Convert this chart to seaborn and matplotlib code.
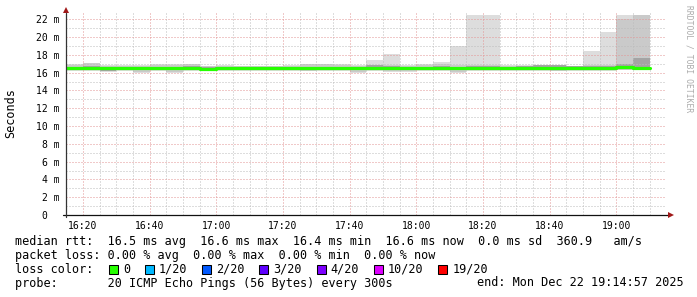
import matplotlib
matplotlib.use("Agg")
import matplotlib.pyplot as plt
import numpy as np
import pandas as pd
import seaborn as sns
from matplotlib.patches import Rectangle

# ---------------- data ----------------
first_step = "16:15"            # start of first 300 s RRD step
step_minutes = 5
window_start = "16:14:57"
window_end = "19:14:57"

median_ms = [16.53, 16.53, 16.50, 16.53, 16.53, 16.53, 16.53, 16.53, 16.38, 16.53,
             16.53, 16.53, 16.53, 16.53, 16.53, 16.53, 16.53, 16.53, 16.53, 16.55,
             16.53, 16.53, 16.53, 16.53, 16.53, 16.53, 16.53, 16.53, 16.53, 16.55,
             16.55, 16.53, 16.55, 16.60, 16.58]
ping_min = [16.20, 16.20, 16.10, 16.20, 16.00, 16.20, 16.00, 16.20, 16.15, 16.20,
            16.20, 16.20, 16.20, 16.20, 16.15, 16.20, 16.20, 16.00, 16.20, 16.10,
            16.10, 16.20, 16.20, 15.95, 16.20, 16.20, 16.20, 16.20, 16.20, 16.15,
            16.20, 16.20, 16.20, 16.25, 16.25]
ping_max = [16.95, 17.10, 16.85, 16.85, 16.85, 17.00, 17.00, 17.00, 16.80, 16.90,
            16.75, 16.75, 16.75, 16.85, 17.00, 17.00, 16.95, 16.85, 17.40, 18.10,
            16.90, 17.00, 17.15, 19.00, 22.50, 22.50, 16.90, 16.85, 16.85, 16.85,
            16.80, 18.40, 20.60, 22.50, 22.50]
ping_p10 = [16.28, 16.28, 16.18, 16.28, 16.10, 16.28, 16.10, 16.28, 16.22, 16.28,
            16.28, 16.28, 16.28, 16.28, 16.22, 16.28, 16.28, 16.10, 16.28, 16.20,
            16.20, 16.28, 16.28, 16.10, 16.28, 16.28, 16.28, 16.28, 16.28, 16.22,
            16.28, 16.28, 16.28, 16.30, 16.30]
ping_p90 = [16.85, 17.05, 16.75, 16.75, 16.75, 16.90, 16.90, 16.95, 16.70, 16.80,
            16.70, 16.70, 16.70, 16.80, 16.95, 16.95, 16.90, 16.75, 16.90, 16.85,
            16.80, 16.90, 17.00, 16.85, 16.90, 16.90, 16.80, 16.80, 16.85, 16.85,
            16.75, 16.90, 16.90, 22.00, 22.50]
ping_p25 = [16.40, 16.40, 16.20, 16.40, 16.40, 16.40, 16.40, 16.40, 16.30, 16.25,
            16.40, 16.25, 16.40, 16.40, 16.40, 16.25, 16.40, 16.40, 16.40, 16.40,
            16.40, 16.40, 16.40, 16.40, 16.40, 16.40, 16.40, 16.40, 16.40, 16.40,
            16.40, 16.25, 16.40, 16.40, 16.40]
ping_p75 = [16.65, 16.75, 16.65, 16.65, 16.65, 16.65, 16.65, 16.72, 16.60, 16.65,
            16.65, 16.65, 16.65, 16.65, 16.65, 16.65, 16.65, 16.65, 16.85, 16.70,
            16.65, 16.65, 16.70, 16.65, 16.70, 16.70, 16.65, 16.70, 16.85, 16.85,
            16.70, 16.75, 16.70, 17.00, 17.60]

x_major_labels = ["16:20", "16:40", "17:00", "17:20", "17:40",
                  "18:00", "18:20", "18:40", "19:00"]
y_major_values = [0, 2, 4, 6, 8, 10, 12, 14, 16, 18, 20, 22]

rtt_stats = [("16.5", "avg"), ("16.6", "max"), ("16.4", "min"), ("16.6", "now")]
rtt_sd = "0.0"
rtt_am = "360.9"
loss_stats = [("0.00", "avg"), ("0.00", "max"), ("0.00", "min"), ("0.00", "now")]
loss_labels = ["0", "1/20", "2/20", "3/20", "4/20", "10/20", "19/20"]
loss_colors = ["#26ff00", "#00b8ff", "#0059ff", "#5e00ff", "#7e00ff", "#dd00ff", "#ff0000"]
probe_text = "20 ICMP Echo Pings (56 Bytes) every 300s"
end_text = "Mon Dec 22 19:14:57 2025"
watermark = "RRDTOOL / TOBI OETIKER"


def to_min(s):
    parts = [int(p) for p in s.split(":")]
    while len(parts) < 3:
        parts.append(0)
    return (parts[0] - 16) * 60 + parts[1] + parts[2] / 60.0


# ---------------- figure ----------------
W, H = 697, 297
sns.set_theme(style="white")
plt.rcParams["font.family"] = ["DejaVu Sans Mono"]
plt.rcParams["text.color"] = "black"

fig = plt.figure(figsize=(W / 100, H / 100), dpi=100, facecolor="white")
ax = fig.add_axes([66 / W, (H - 215) / H, 600 / W, 202 / H], facecolor="white")

n = len(median_ms)
t0 = to_min(first_step)
step_x = np.array([t0 + i * step_minutes for i in range(n)])

# smoke (outer -> inner)
for lo, hi, col in [(ping_min, ping_max, "#dddddd"),
                    (ping_p10, ping_p90, "#cacaca"),
                    (ping_p25, ping_p75, "#a4a4a4")]:
    lo = np.array(lo)
    hi = np.array(hi)
    ax.bar(step_x, hi - lo, bottom=lo, width=step_minutes, align="edge",
           color=col, linewidth=0, zorder=1)

# median line
df = pd.DataFrame({"t": list(step_x) + [step_x[-1] + step_minutes],
                   "median": median_ms + [median_ms[-1]]})
sns.lineplot(data=df, x="t", y="median", drawstyle="steps-post",
             color=loss_colors[0], linewidth=2.3, ax=ax, zorder=3)
ax.set_xlabel("")
ax.set_ylabel("")

ax.set_xlim(to_min(window_start), to_min(window_end))
ax.set_ylim(0, 22.71)

# ticks & grid
ax.set_xticks([to_min(s) for s in x_major_labels])
ax.set_xticklabels(x_major_labels)
ax.set_xticks(np.arange(to_min("16:15"), to_min(window_end), 5), minor=True)
ax.set_yticks(y_major_values)
ax.set_yticklabels([""] * len(y_major_values))
ax.set_yticks(np.arange(1, 23, 2), minor=True)

ax.set_axisbelow(False)
ax.grid(which="major", color="#e39595", linestyle=(0, (1, 2)), linewidth=0.72)
ax.grid(which="minor", color="#bcbcbc", linestyle=(0, (1, 2)), linewidth=0.72)
ax.tick_params(axis="x", which="major", length=1.5, width=0.72, color="#222222",
               direction="out", pad=3.0, labelsize=7, labelcolor="black")
ax.tick_params(axis="y", which="major", length=1.5, width=0.72, color="#222222",
               direction="out", pad=0, labelsize=7)
ax.tick_params(which="minor", length=0)
for sp in ax.spines.values():
    sp.set_visible(False)

# axis lines + arrows
ax.plot([-3 / 600, 602 / 600], [0, 0], transform=ax.transAxes, color="#111111",
        lw=0.9, clip_on=False, zorder=5)
ax.plot([0, 0], [-2 / 202, 1.0], transform=ax.transAxes, color="#333333",
        lw=0.9, clip_on=False, zorder=5)
ax.plot([605 / 600], [0], marker=">", ms=4.3, mew=0, color="#a01818",
        transform=ax.transAxes, clip_on=False, zorder=6)
ax.plot([0], [204.7 / 202], marker="^", ms=4.3, mew=0, color="#a01818",
        transform=ax.transAxes, clip_on=False, zorder=6)

# y tick labels
for v in y_major_values:
    if v == 0:
        ax.annotate("0", xy=(0, v), xycoords=("axes fraction", "data"),
                    xytext=(-18.5, -1), textcoords="offset pixels",
                    ha="right", va="center", fontsize=7, color="black")
    else:
        ax.annotate(f"{v} m", xy=(0, v), xycoords=("axes fraction", "data"),
                    xytext=(-6.7, -1), textcoords="offset pixels",
                    ha="right", va="center", fontsize=7, color="black")

# y axis label
fig.text(11 / W, 1 - 113 / H, "Seconds", rotation=90, ha="center", va="center",
         fontsize=8.5, color="black")

# watermark
fig.text(688.5 / W, 1 - 59 / H, watermark, rotation=270, ha="center", va="center",
         fontsize=5.8, color="#ababab")

# legend text
CW = 7.1
X0 = 15.3
def ftext(x, y, s, **kw):
    fig.text(x / W, 1 - y / H, s, va="baseline", ha="left", fontsize=8.5,
             color="black", **kw)

line1 = "median rtt:  " + "  ".join(f"{v} ms {k}" for v, k in rtt_stats) \
        + f"  {rtt_sd} ms sd  {rtt_am}   am/s"
line2 = "packet loss: " + "  ".join(f"{v} % {k}" for v, k in loss_stats)
ftext(X0, 245.2, line1)
ftext(X0, 258.9, line2)
ftext(X0, 272.7, "loss color:")
ftext(X0, 286.5, "probe:       " + probe_text)
ftext(478 - 0.7, 286.5, "end: " + end_text)

cursor = 108.8
for lab, col in zip(loss_labels, loss_colors):
    fig.add_artist(Rectangle((cursor / W, 1 - 274.2 / H), 9 / W, 9 / H,
                             transform=fig.transFigure, facecolor=col,
                             edgecolor="black", linewidth=0.75))
    tx = cursor + 14.7
    ftext(tx - 0.7, 272.7, lab)
    cursor = tx + len(lab) * CW + 2 * CW

fig.savefig("out.png", dpi=100, facecolor="white")
